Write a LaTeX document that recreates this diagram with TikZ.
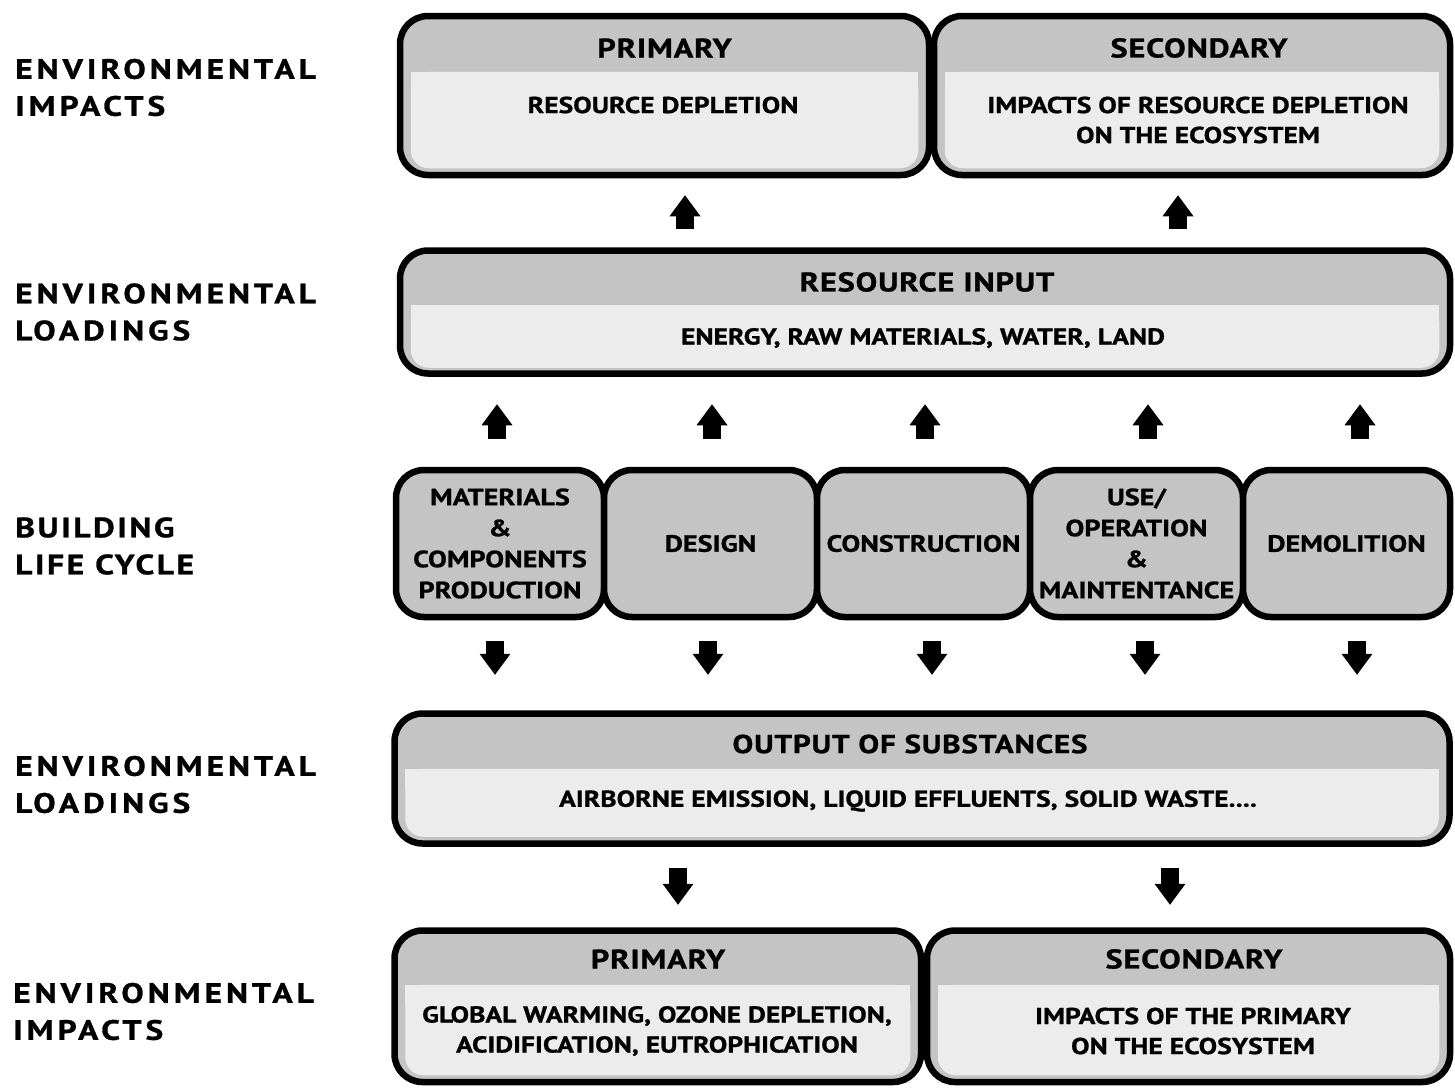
\documentclass[tikz,border=0pt]{standalone}
\usepackage{fontspec}
\setmainfont{PT Sans}
\newfontfamily\boxfont{PT Sans Bold}[FakeStretch=1.2, FakeBold=1]
\newfontfamily\headfont{PT Sans Bold}[FakeStretch=1.2, FakeBold=1, LetterSpace=3]
\newfontfamily\labelfont{PT Sans Bold}[FakeStretch=1.2, FakeBold=1, LetterSpace=14]
\newfontfamily\labeltight{PT Sans Bold}[FakeStretch=1.2, FakeBold=1, LetterSpace=9]
\usetikzlibrary{arrows.meta,calc}

\definecolor{gdark}{RGB}{196,196,196}
\definecolor{glight}{RGB}{236,236,236}

\tikzset{
  stage/.style={draw=black, line width=6.5pt, fill=gdark, rounded corners=28pt, inner sep=0pt},
  head/.style={font=\headfont\fontsize{27}{30}\selectfont, inner sep=0pt},
  body/.style={font=\boxfont\fontsize{23}{30}\selectfont, align=center, inner sep=0pt},
  cycle/.style={stage, font=\boxfont\fontsize{23.5}{31}\selectfont, align=center, minimum height=147pt},
  rowlabel/.style={font=\labelfont\fontsize{28}{37}\selectfont, align=left, anchor=west, inner sep=0pt},
  blockarrow/.style={line width=18pt, -{Triangle[width=31pt,length=21pt,line width=0pt]}},
}

% light lower panel inside a box: node, top offset, bottom offset
\newcommand\lightpanel[3]{%
  \fill[glight, rounded corners=18pt] ($(#1.north west)+(14,#2)$) rectangle ($(#1.south east)+(-14,-#3)$);
  \fill[glight] ($(#1.north west)+(14,#2)$) rectangle ($(#1.north east)+(-14,#2+20)$);
}

\begin{document}
\begin{tikzpicture}[x=1pt,y=-1pt]
\useasboundingbox[fill=white] (0,0) rectangle (1455,1088);

% row labels
\node[rowlabel] (l1) at (15,87.5)  {ENVIRONMENTAL\\IMPACTS};
\node[rowlabel] (l2) at (15,312)   {ENVIRONMENTAL\\LOADINGS};
\node[rowlabel, font=\labeltight\fontsize{28}{37}\selectfont] (l3) at (15,546) {BUILDING\\LIFE CYCLE};
\node[rowlabel] (l4) at (15,784.5) {ENVIRONMENTAL\\LOADINGS};
\node[rowlabel] (l5) at (13,1011.5){ENVIRONMENTAL\\IMPACTS};

% top impacts
\node[stage, minimum width=529pt, minimum height=159pt] (p1) at (664.5,95.5) {};
\node[stage, minimum width=516pt, minimum height=159pt] (p2) at (1192,95.5) {};
\lightpanel{p1}{59}{10}
\lightpanel{p2}{59}{10}
\node[head] (p1h) at (664.5,48) {PRIMARY};
\node[body] (p1b) at (663,105) {RESOURCE DEPLETION};
\node[head] (p2h) at (1199,48) {SECONDARY};
\node[body] (p2b) at (1198,120) {IMPACTS OF RESOURCE DEPLETION\\ON THE ECOSYSTEM};

% resource input
\node[stage, minimum width=1050pt, minimum height=123pt] (ri) at (925,312) {};
\lightpanel{ri}{58}{9}
\node[head] (rih) at (927,282) {RESOURCE INPUT};
\node[body] (rib) at (923,338) {ENERGY, RAW MATERIALS, WATER, LAND};

% building life cycle
\node[cycle, minimum width=208pt] (c1) at (500,543.5) {MATERIALS\\\&\\COMPONENTS\\PRODUCTION};
\node[cycle, minimum width=213pt] (c2) at (710.5,543.5) {DESIGN};
\node[cycle, minimum width=213pt] (c3) at (923.5,543.5) {CONSTRUCTION};
\node[cycle, minimum width=213pt] (c4) at (1136.5,543.5) {USE/\\OPERATION\\\&\\MAINTENTANCE};
\node[cycle, minimum width=207pt] (c5) at (1346.5,543.5) {DEMOLITION};

% output of substances
\node[stage, minimum width=1055pt, minimum height=130pt] (os) at (922,778.5) {};
\lightpanel{os}{58.5}{10}
\node[head, font=\headfont\fontsize{26}{30}\selectfont] (osh) at (910,744) {OUTPUT OF SUBSTANCES};
\node[body] (osb) at (908,801) {AIRBORNE EMISSION, LIQUID EFFLUENTS, SOLID WASTE....};

% bottom impacts
\node[stage, minimum width=526.5pt, minimum height=151.5pt] (b1) at (657.75,1006.25) {};
\node[stage, minimum width=523pt, minimum height=151.5pt] (b2) at (1188.5,1006.25) {};
\lightpanel{b1}{57.5}{10}
\lightpanel{b2}{57.5}{10}
\node[head] (b1h) at (658,959) {PRIMARY};
\node[body] (b1b) at (657,1031) {GLOBAL WARMING, OZONE DEPLETION,\\ACIDIFICATION, EUTROPHICATION};
\node[head] (b2h) at (1194,959) {SECONDARY};
\node[body] (b2b) at (1193,1031) {IMPACTS OF THE PRIMARY\\ON THE ECOSYSTEM};

% arrow columns
\coordinate (t1) at (685,0);  \coordinate (t2) at (1178,0);
\coordinate (u1) at (497,0);  \coordinate (u2) at (712,0);  \coordinate (u3) at (925,0);
\coordinate (u4) at (1148,0); \coordinate (u5) at (1360,0);
\coordinate (d1) at (495,0);  \coordinate (d2) at (708,0);  \coordinate (d3) at (932,0);
\coordinate (d4) at (1145,0); \coordinate (d5) at (1357,0);
\coordinate (e1) at (678,0);  \coordinate (e2) at (1170,0);

% resource input -> primary/secondary impacts
\foreach \k/\b in {t1/p1,t2/p2}
  \draw[blockarrow, shorten <=18.5pt, shorten >=17pt] (ri.north -| \k) -- (\b.south -| \k);
% life cycle -> resource input
\foreach \k/\c in {u1/c1,u2/c2,u3/c3,u4/c4,u5/c5}
  \draw[blockarrow, shorten <=28pt, shorten >=27.5pt] (\c.north -| \k) -- (ri.south -| \k);
% life cycle -> output of substances
\foreach \k/\c in {d1/c1,d2/c2,d3/c3,d4/c4,d5/c5}
  \draw[blockarrow, shorten <=21pt, shorten >=35.5pt] (\c.south -| \k) -- (os.north -| \k);
% output of substances -> primary/secondary impacts
\foreach \k/\b in {e1/b1,e2/b2}
  \draw[blockarrow, shorten <=21.5pt, shorten >=22.5pt] (os.south -| \k) -- (\b.north -| \k);
\end{tikzpicture}
\end{document}
